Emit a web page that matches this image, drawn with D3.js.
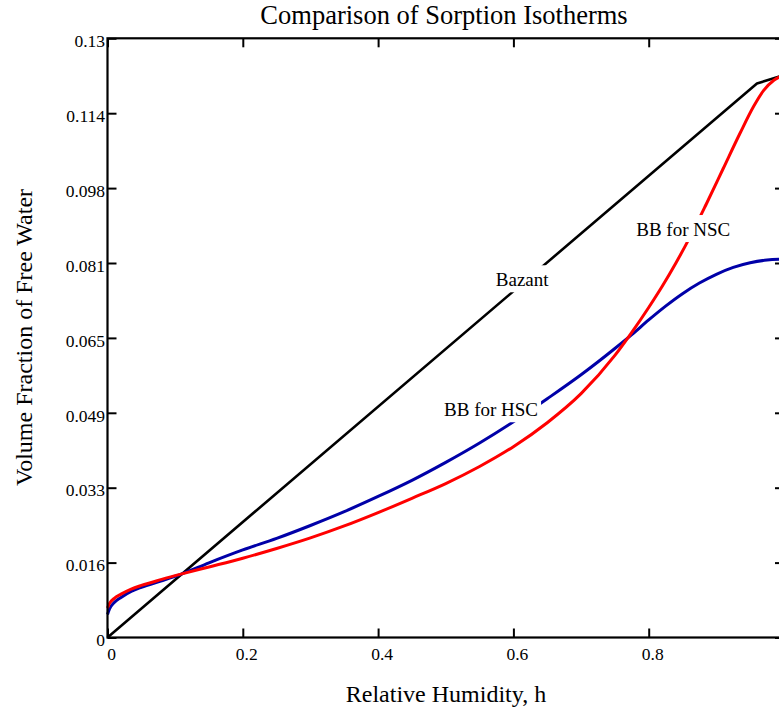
<!DOCTYPE html>
<html>
<head>
<meta charset="utf-8">
<script src="https://cdn.jsdelivr.net/npm/d3@7"></script>
<style>
  html, body { margin: 0; padding: 0; background: #fff; }
  svg { display: block; font-family: "Liberation Serif", "Times New Roman", serif; }
</style>
</head>
<body>
<svg id="chart" width="779" height="717"></svg>
<script>
// ---- data ----
const title = "Comparison of Sorption Isotherms";
const xLabel = "Relative Humidity, h";
const yLabel = "Volume Fraction of Free Water";

const xTicks = [0, 0.2, 0.4, 0.6, 0.8, 1.0];
const xTickLabels = ["0", "0.2", "0.4", "0.6", "0.8", ""];
const yTicks = [0, 0.01625, 0.0325, 0.04875, 0.065, 0.08125, 0.0975, 0.11375, 0.13];
const yTickLabels = ["0", "0.016", "0.033", "0.049", "0.065", "0.081", "0.098", "0.114", "0.13"];

const bazantH = [0, 0.96, 1.0];
const bazantV = [0, 0.1202, 0.1220];

const nscH = [0, 0.003, 0.01, 0.02, 0.035, 0.05, 0.08, 0.11, 0.15, 0.2, 0.25, 0.3, 0.35, 0.4, 0.45, 0.5, 0.55, 0.6, 0.65, 0.7, 0.75, 0.775, 0.8, 0.82, 0.84, 0.86, 0.885, 0.91, 0.935, 0.955, 0.97, 0.985, 1.0];
const nscV = [0.0064, 0.0074, 0.0085, 0.0094, 0.0105, 0.0113, 0.0126, 0.0138, 0.0153, 0.0172, 0.0193, 0.0216, 0.0242, 0.0271, 0.0302, 0.0334, 0.0371, 0.0414, 0.0466, 0.0529, 0.0612, 0.0662, 0.0716, 0.0762, 0.0812, 0.0866, 0.0940, 0.1017, 0.1094, 0.1152, 0.1187, 0.1209, 0.1220];

const hscH = [0, 0.003, 0.01, 0.02, 0.035, 0.05, 0.08, 0.11, 0.15, 0.2, 0.25, 0.3, 0.35, 0.4, 0.45, 0.5, 0.55, 0.6, 0.65, 0.7, 0.75, 0.775, 0.8, 0.825, 0.85, 0.875, 0.9, 0.925, 0.95, 0.975, 1.0];
const hscV = [0.0050, 0.0062, 0.0076, 0.0087, 0.0100, 0.0109, 0.0123, 0.0138, 0.0162, 0.0190, 0.0215, 0.0243, 0.0273, 0.0306, 0.0341, 0.0380, 0.0422, 0.0468, 0.0518, 0.0570, 0.0627, 0.0657, 0.0689, 0.0719, 0.0746, 0.0769, 0.0788, 0.0803, 0.0813, 0.0819, 0.0821];

const labelTexts = ["Bazant", "BB for HSC", "BB for NSC"];
const labelH = [0.613, 0.567, 0.851];
const labelV = [0.0762, 0.0480, 0.0871];

// ---- layout ----
const svg = d3.select("#chart");
const pL = 107.5, pR = 784, pT = 38.3, pB = 637.5;
const x = d3.scaleLinear().domain([0, 1]).range([pL, pR]);
const y = d3.scaleLinear().domain([0, 0.13]).range([pB, pT]);

// title
svg.append("text").attr("x", 444).attr("y", 23.8)
  .attr("text-anchor", "middle").attr("font-size", 26.5).attr("fill", "#000").text(title);

// axes labels
svg.append("text").attr("x", 446).attr("y", 701.5)
  .attr("text-anchor", "middle").attr("font-size", 24).attr("fill", "#000").text(xLabel);
svg.append("text").attr("transform", "translate(31.5,337.5) rotate(-90)")
  .attr("text-anchor", "middle").attr("font-size", 24).attr("fill", "#000").text(yLabel);

// curves
const zip = (a, b) => a.map((v, i) => [v, b[i]]);
const plot = svg.append("g");
plot.append("path").datum(zip(bazantH, bazantV))
  .attr("d", d3.line().x(d => x(d[0])).y(d => y(d[1])).curve(d3.curveLinear))
  .attr("fill", "none").attr("stroke", "#000").attr("stroke-width", 2.6).attr("stroke-linejoin", "round");
plot.append("path").datum(zip(hscH, hscV))
  .attr("d", d3.line().x(d => x(d[0])).y(d => y(d[1])).curve(d3.curveMonotoneX))
  .attr("fill", "none").attr("stroke", "#0000a8").attr("stroke-width", 3);
plot.append("path").datum(zip(nscH, nscV))
  .attr("d", d3.line().x(d => x(d[0])).y(d => y(d[1])).curve(d3.curveMonotoneX))
  .attr("fill", "none").attr("stroke", "#ff0000").attr("stroke-width", 3);

// labels with white background
labelTexts.forEach((t, i) => {
  const g = svg.append("g");
  const rect = g.append("rect").attr("fill", "#fff");
  const txt = g.append("text").attr("x", x(labelH[i])).attr("y", y(labelV[i]))
    .attr("text-anchor", "middle").attr("font-size", 19).attr("fill", "#000").text(t);
  const b = txt.node().getBBox();
  rect.attr("x", b.x - 3).attr("y", b.y - 4).attr("width", b.width + 6).attr("height", b.height + 6);
});

// axes (ticks inward)
const tickFont = "Liberation Serif, Times New Roman, serif";
const axB = svg.append("g").attr("transform", `translate(0,${pB})`)
  .call(d3.axisBottom(x).tickValues(xTicks).tickSizeInner(-9).tickSizeOuter(0).tickPadding(10.5)
    .tickFormat((d, i) => xTickLabels[i]));
axB.attr("font-family", tickFont).attr("font-size", 17.5);
axB.selectAll("text").attr("fill", "#000").attr("dx", 3.5);
const axT = svg.append("g").attr("transform", `translate(0,${pT})`)
  .call(d3.axisTop(x).tickValues(xTicks).tickSizeInner(-9).tickSizeOuter(0).tickFormat(""));
const axL = svg.append("g").attr("transform", `translate(${pL},0)`)
  .call(d3.axisLeft(y).tickValues(yTicks).tickSizeInner(-9).tickSizeOuter(0).tickPadding(2.5)
    .tickFormat((d, i) => yTickLabels[i]));
axL.attr("font-family", tickFont).attr("font-size", 17.5);
axL.selectAll("text").attr("fill", "#000").attr("dy", "0.47em");
const axR = svg.append("g").attr("transform", `translate(${pR},0)`)
  .call(d3.axisRight(y).tickValues(yTicks).tickSizeInner(-9).tickSizeOuter(0).tickFormat(""));

[axB, axT, axL, axR].forEach(a => {
  a.select(".domain").remove();
  a.selectAll(".tick line").attr("stroke", "#000").attr("stroke-width", 2);
});

// frame
svg.append("rect").attr("x", pL).attr("y", pT).attr("width", pR - pL).attr("height", pB - pT)
  .attr("fill", "none").attr("stroke", "#000").attr("stroke-width", 2.2);
</script>
</body>
</html>
